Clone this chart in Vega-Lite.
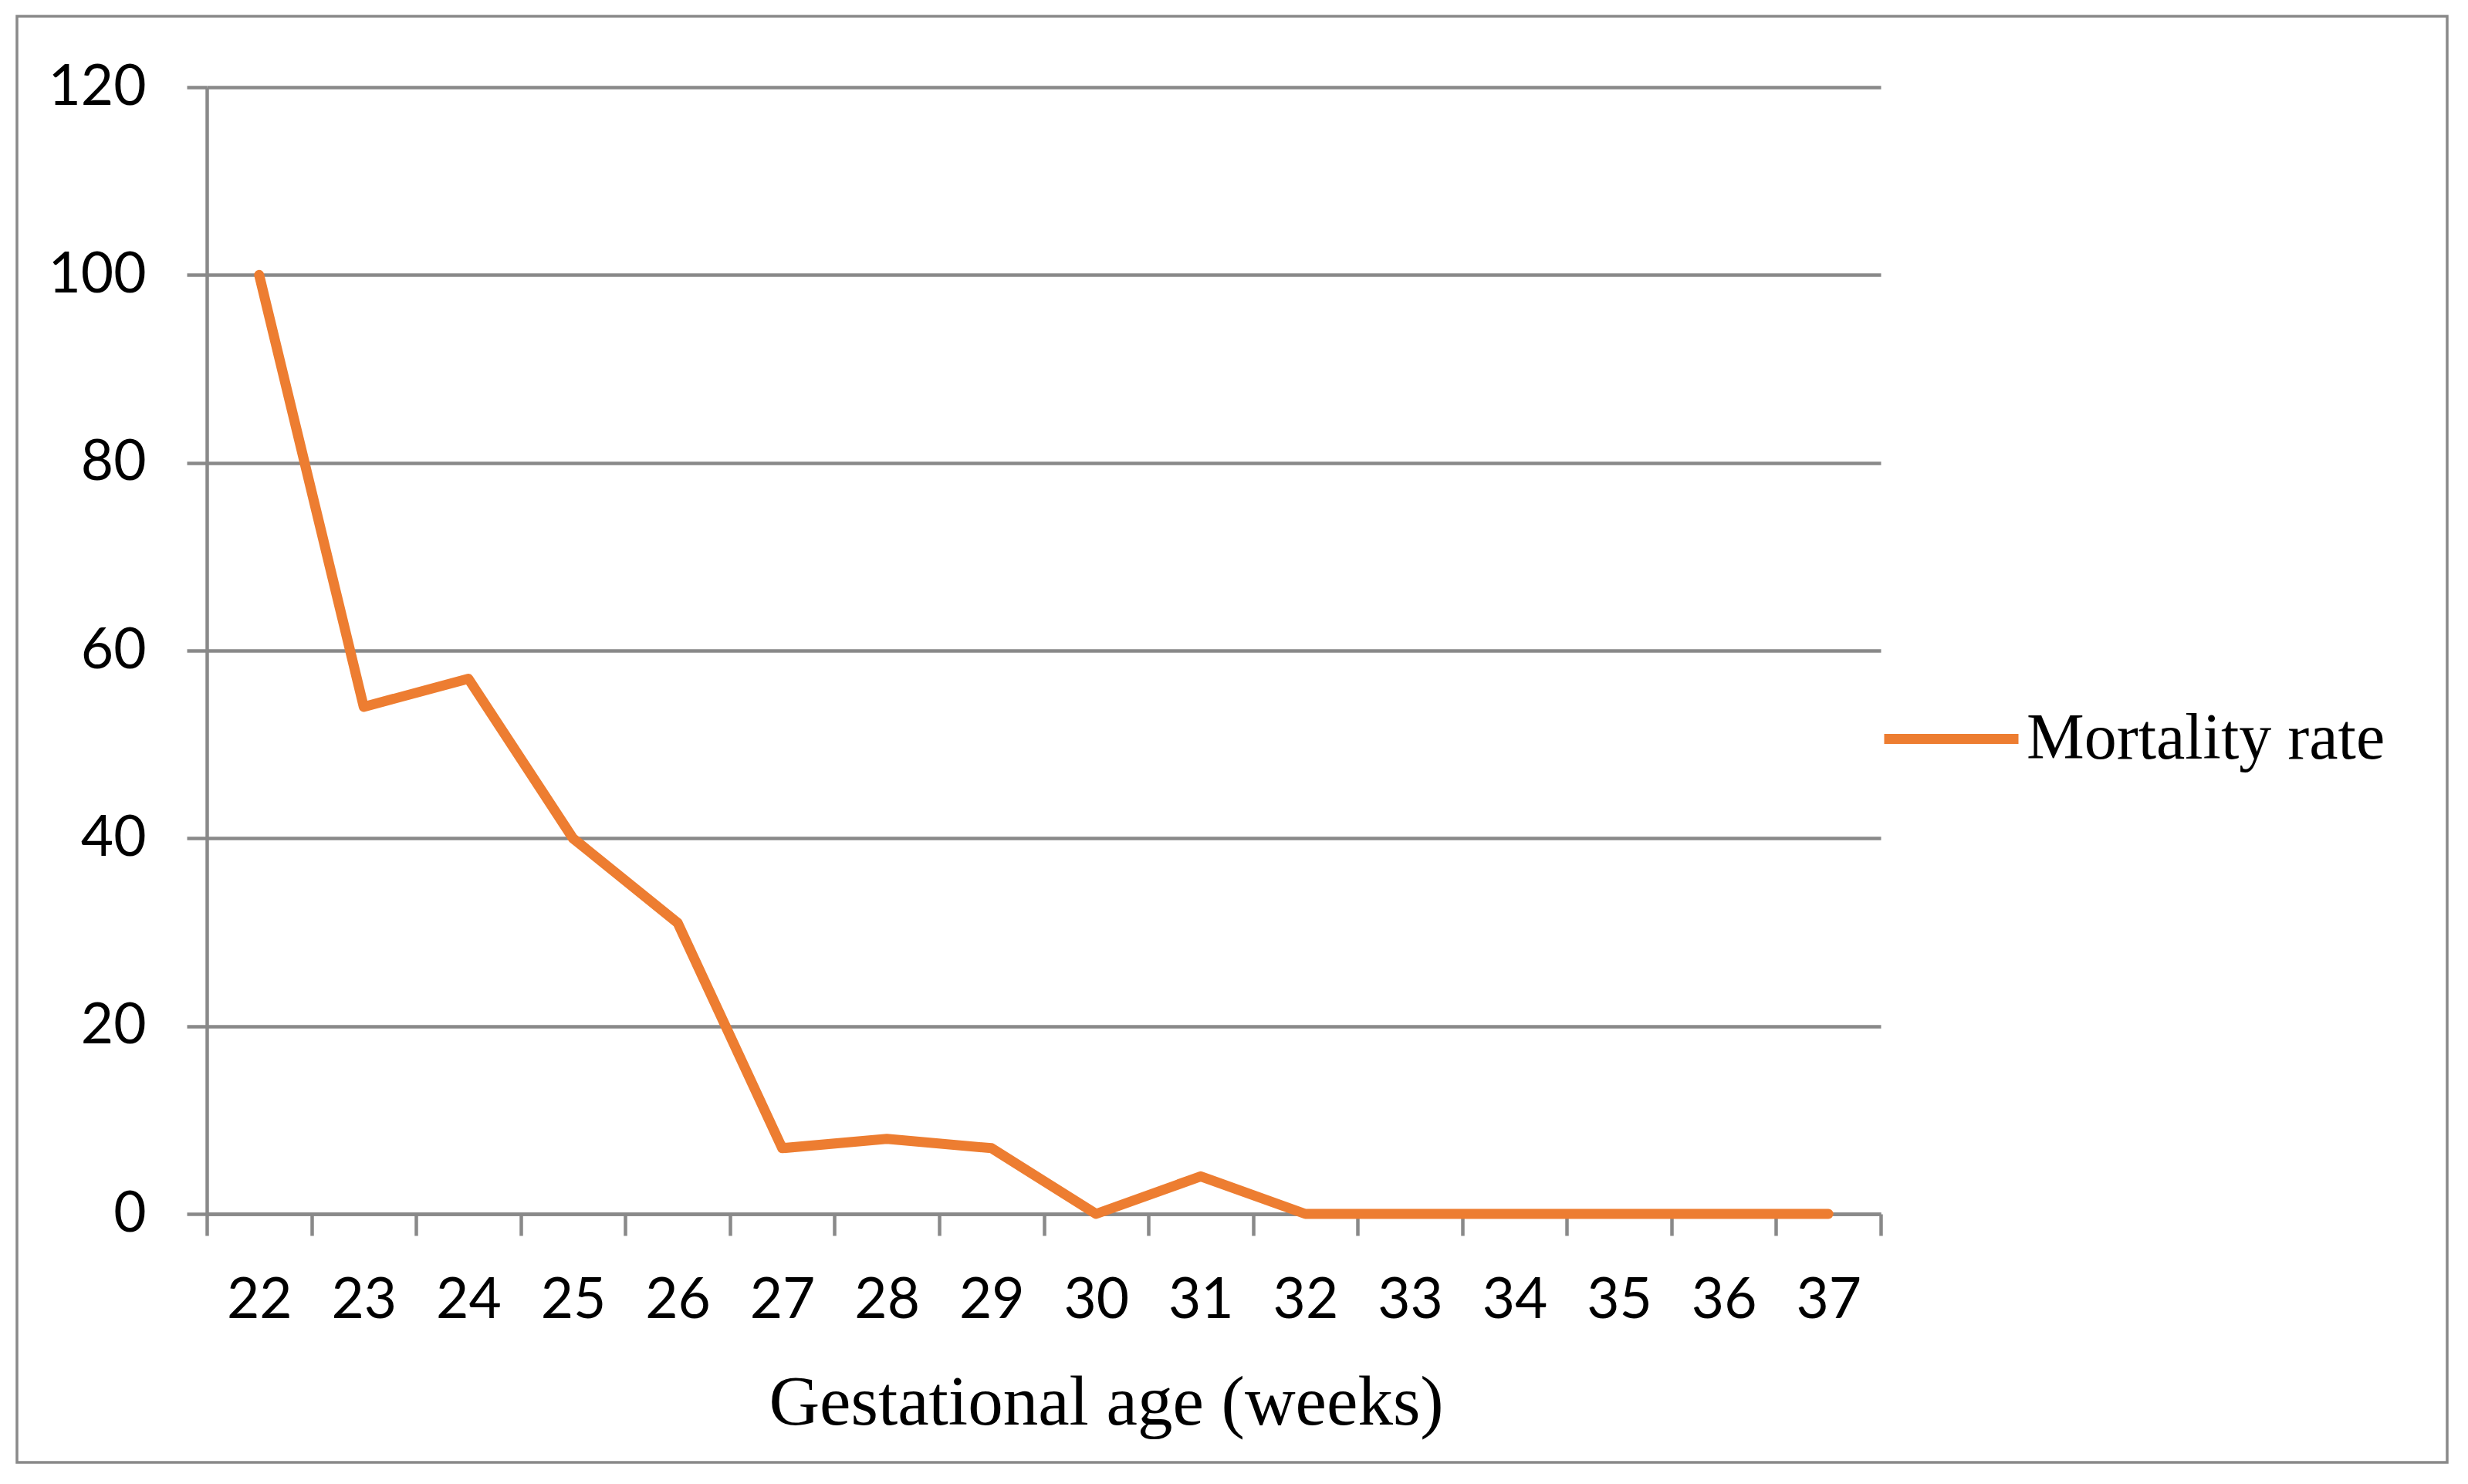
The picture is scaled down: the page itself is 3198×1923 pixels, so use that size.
{
  "$schema": "https://vega.github.io/schema/vega-lite/v6.json",
  "autosize": {"type": "none"},
  "padding": {"left": 22, "top": 21, "right": 27, "bottom": 28},
  "width": 3149,
  "height": 1874,
  "background": "white",
  "config": {
    "view": {"stroke": "#898989", "strokeWidth": 3.5},
    "axis": {
      "domainColor": "#898989",
      "domainWidth": 4.5,
      "tickColor": "#898989",
      "tickWidth": 4.5,
      "gridColor": "#898989",
      "gridWidth": 4.5,
      "labelColor": "#000000",
      "labelFont": "Lato",
      "labelFontSize": 73,
      "labelOverlap": false,
      "labelFlush": false,
      "labelBound": false
    }
  },
  "data": {
    "values": [
      {"week": 22, "rate": 100, "series": "Mortality rate"},
      {"week": 23, "rate": 54, "series": "Mortality rate"},
      {"week": 24, "rate": 57, "series": "Mortality rate"},
      {"week": 25, "rate": 40, "series": "Mortality rate"},
      {"week": 26, "rate": 31, "series": "Mortality rate"},
      {"week": 27, "rate": 7, "series": "Mortality rate"},
      {"week": 28, "rate": 8, "series": "Mortality rate"},
      {"week": 29, "rate": 7, "series": "Mortality rate"},
      {"week": 30, "rate": 0, "series": "Mortality rate"},
      {"week": 31, "rate": 4, "series": "Mortality rate"},
      {"week": 32, "rate": 0, "series": "Mortality rate"},
      {"week": 33, "rate": 0, "series": "Mortality rate"},
      {"week": 34, "rate": 0, "series": "Mortality rate"},
      {"week": 35, "rate": 0, "series": "Mortality rate"},
      {"week": 36, "rate": 0, "series": "Mortality rate"},
      {"week": 37, "rate": 0, "series": "Mortality rate"}
    ]
  },
  "mark": {"type": "line", "strokeWidth": 13, "strokeCap": "round", "strokeJoin": "round"},
  "encoding": {
    "x": {
      "field": "week",
      "type": "quantitative",
      "scale": {"domain": [21.5, 37.5], "range": [246, 2415], "nice": false, "zero": false},
      "axis": {
        "values": [21.5, 22.5, 23.5, 24.5, 25.5, 26.5, 27.5, 28.5, 29.5, 30.5, 31.5, 32.5, 33.5, 34.5, 35.5, 36.5, 37.5],
        "labelExpr": "datum.value < 37 ? format(datum.value + 0.5, 'd') : ''",
        "labelOffset": 67.8,
        "labelBaseline": "alphabetic",
        "labelPadding": 106,
        "tickSize": 28,
        "grid": false,
        "offset": -322,
        "title": "Gestational age (weeks)",
        "titleFont": "Liberation Serif",
        "titleFontSize": 91,
        "titleFontWeight": "normal",
        "titleColor": "#000000",
        "titleBaseline": "alphabetic",
        "titleAnchor": "middle",
        "titleAlign": "center",
        "titleX": 1411,
        "titleY": 272
      }
    },
    "y": {
      "field": "rate",
      "type": "quantitative",
      "scale": {"domain": [0, 120], "range": [1552, 92], "nice": false, "zero": true},
      "axis": {
        "values": [0, 20, 40, 60, 80, 100, 120],
        "grid": true,
        "tickSize": 26,
        "labelPadding": 53,
        "labelAlign": "right",
        "labelBaseline": "middle",
        "offset": -246,
        "title": null
      }
    },
    "color": {
      "field": "series",
      "type": "nominal",
      "scale": {"range": ["#ED7D31"]},
      "legend": {
        "title": null,
        "orient": "none",
        "legendX": 2413,
        "legendY": 843,
        "padding": 0,
        "symbolType": "stroke",
        "symbolSize": 30276,
        "symbolStrokeWidth": 13,
        "labelFont": "Liberation Serif",
        "labelFontSize": 84,
        "labelColor": "#000000",
        "labelOffset": 4,
        "labelLimit": 1000
      }
    }
  }
}
